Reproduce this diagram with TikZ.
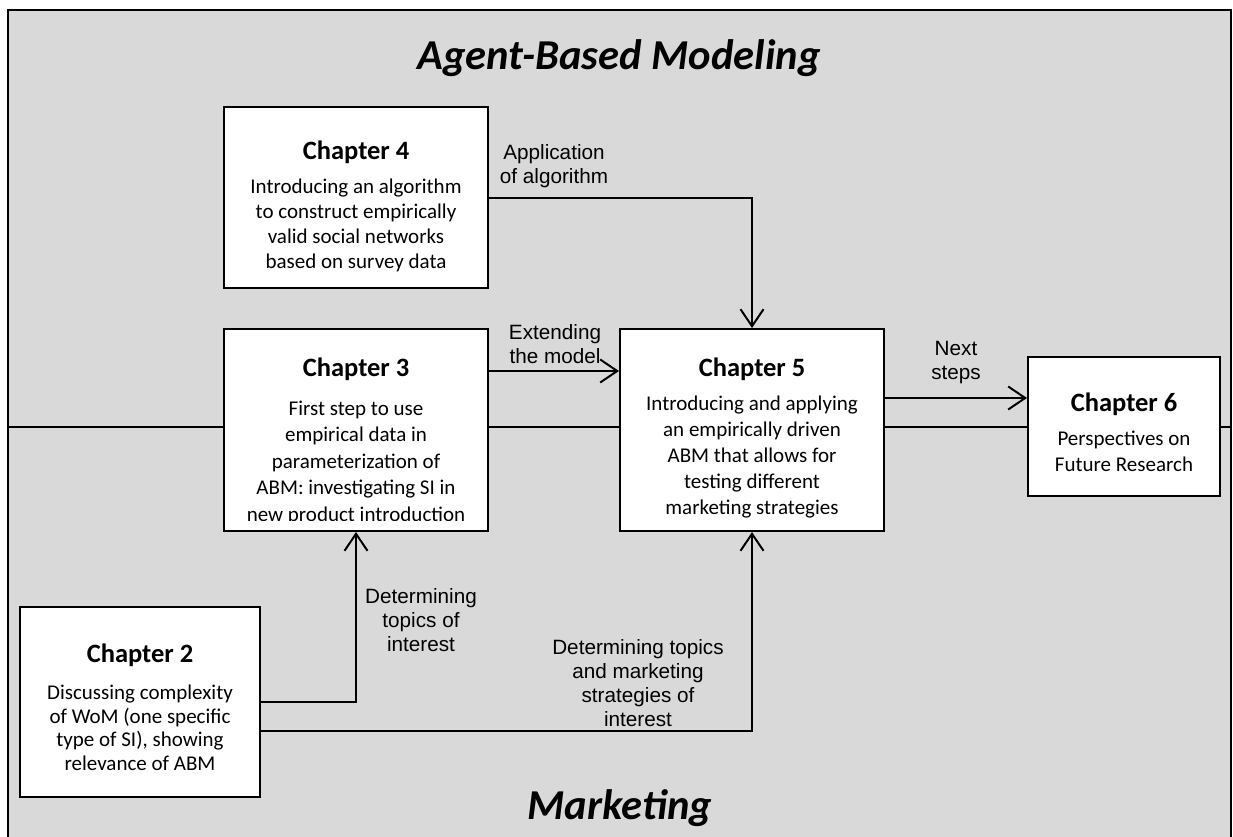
\documentclass[tikz,border=0pt]{standalone}
\usepackage{fontspec}
\setmainfont{Carlito}
\newfontfamily\lblfont{Liberation Sans}
\usetikzlibrary{arrows.meta}
\definecolor{bggray}{HTML}{D9D9D9}
\begin{document}
\begin{tikzpicture}[x=1pt,y=-1pt,
  box/.style={draw, fill=white, line width=2pt, inner sep=0pt},
  conn/.style={line width=2pt, -{Straight Barb[length=17pt,width=23pt,line width=2pt]}},
  body/.style={align=center, inner sep=0pt, font=\fontsize{21}{26}\selectfont},
  head/.style={inner sep=0pt, font=\fontsize{26.5}{32}\selectfont\bfseries},
  lbl/.style={align=center, inner sep=0pt, font=\lblfont\fontsize{20.7}{24}\selectfont},
  ttl/.style={inner sep=0pt, anchor=base, font=\fontsize{42.6}{50}\selectfont\bfseries\itshape}]
\useasboundingbox (0,0) rectangle (1233,837);
\fill[white] (0,0) rectangle (1233,837);
\fill[bggray] (8,10) rectangle (1231,837);
\draw[line width=2.5pt] (8,837) -- (8,10) -- (1231,10) -- (1231,837);
\coordinate (divL) at (8,427);
\coordinate (divR) at (1231,427);
\draw[line width=2pt] (divL) -- (divR);
% titles
\node[ttl] (t1) at (619,70) {Agent-Based Modeling};
\node[ttl] (t2) at (620,819) {Marketing};
% boxes
\node[box, minimum width=264pt, minimum height=181pt] (c4) at (356,197.5) {};
\node[box, minimum width=264pt, minimum height=202pt] (c3) at (356,430) {};
\node[box, minimum width=264pt, minimum height=202pt] (c5) at (752,430) {};
\node[box, minimum width=192pt, minimum height=139pt] (c6) at (1124,426.5) {};
\node[box, minimum width=240pt, minimum height=190pt] (c2) at (140,702) {};
% box texts
\node[head] (c4h) at (356,152) {Chapter 4};
\node[body, font=\fontsize{21}{25}\selectfont] (c4t) at (356,225) {Introducing an algorithm\\to construct empirically\\valid social networks\\based on survey data};
\node[head] (c3h) at (356,369) {Chapter 3};
\begin{scope}
\clip (224,329) rectangle (488,520);
\node[body, font=\fontsize{21}{26.5}\selectfont] (c3t) at (356,462.5) {First step to use\\empirical data in\\parameterization of\\ABM: investigating SI in\\new product introduction};
\end{scope}
\node[head] (c5h) at (752,369) {Chapter 5};
\node[body] (c5t) at (752,457) {Introducing and applying\\an empirically driven\\ABM that allows for\\testing different\\marketing strategies};
\node[head] (c6h) at (1124,404) {Chapter 6};
\node[body] (c6t) at (1124,451) {Perspectives on\\Future Research};
\node[head] (c2h) at (140,655) {Chapter 2};
\node[body, font=\fontsize{21}{23.5}\selectfont] (c2t) at (140,728) {Discussing complexity\\of WoM (one specific\\type of SI), showing\\relevance of ABM};
% connectors
\draw[conn] (c4.east) -| (c5.north);
\draw[conn] ([yshift=59pt]c3.east) -- ([yshift=59pt]c5.west);
\draw[conn] ([yshift=32pt]c5.east) -- ([yshift=32pt]c5.east -| c6.west);
\draw[conn] (c2.east) -| (c3.south);
\draw[conn] ([yshift=-29pt]c2.east) -| (c5.south);
% labels
\node[lbl] (la) at (554,166) {Application\\of algorithm};
\node[lbl] (lb) at (555,344) {Extending\\the model};
\node[lbl] (lc) at (956,363) {Next\\steps};
\node[lbl] (ld) at (421,620) {Determining\\topics of\\interest};
\node[lbl] (le) at (638,683) {Determining topics\\and marketing\\strategies of\\interest};
\end{tikzpicture}
\end{document}
